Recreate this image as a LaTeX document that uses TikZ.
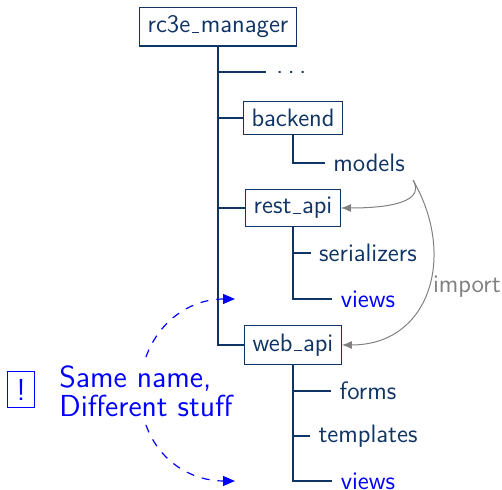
\documentclass[tikz,border=0pt]{standalone}
\usepackage{fontspec}
\usetikzlibrary{arrows.meta}
\definecolor{navy}{RGB}{16,52,100}
\definecolor{impgray}{RGB}{128,128,128}
% short low underscore, as in the classic text fonts
\newcommand{\uscore}{\kern.06em\vbox{\hrule width.3em height .6pt}\kern.06em}
\begin{document}
\begin{tikzpicture}[x=0.5pt,y=0.5pt,
  every node/.style={font=\sffamily\fontsize{12.6}{15}\selectfont, text=navy, inner sep=4pt},
  dirbox/.style={draw=navy, line width=0.6pt},
  hi/.style={text=blue},
  branch/.style={draw=navy, line width=0.65pt},
  imp/.style={draw=impgray, line width=0.5pt, -{Latex[length=5pt,width=4pt]}},
  hint/.style={draw=blue, line width=0.6pt, dash pattern=on 4pt off 4pt,
    -{Triangle[length=6pt,width=5pt]}},
  notefont/.style={font=\sffamily\fontsize{15.2}{14.5}\selectfont}]
\useasboundingbox (0,0) rectangle (502,-490);

% directory tree
\node[dirbox] (root) at (218,-27) {rc3e\uscore manager};
\node[anchor=west, inner xsep=5pt, text height=2pt, text depth=0pt] (dots) at (266,-72)
  {.\kern2.3pt.\kern2.3pt.};
\node[dirbox] (backend) at (293,-118) {backend};
\node (models) at (369,-163) {models};
\node[dirbox] (rest) at (293,-208) {rest\uscore api};
\node (serial) at (368,-253) {serializers};
\node[hi] (restviews) at (368,-299) {views};
\node[dirbox] (web) at (293,-345) {web\uscore api};
\node (forms) at (368,-391) {forms};
\node (templ) at (368,-436) {templates};
\node[hi] (webviews) at (368,-481) {views};

\draw[branch] (root.south) |- (dots.west);
\draw[branch] (root.south) |- (backend.west);
\draw[branch] (root.south) |- (rest.west);
\draw[branch] (root.south) |- (web.west);
\draw[branch] (backend.south) |- (models.west);
\draw[branch] (rest.south) |- (serial.west);
\draw[branch] (rest.south) |- (restviews.west);
\draw[branch] (web.south) |- (forms.west);
\draw[branch] (web.south) |- (templ.west);
\draw[branch] (web.south) |- (webviews.west);

% imports
\draw[imp] (models.south east) to[out=-60,in=0] (rest.east);
\draw[imp] (models.south east) to[out=-60,in=0, looseness=1.25]
  node[pos=0.475, right, text=impgray, inner xsep=2pt] {import} (web.east);

% note
\node[draw=blue, line width=0.5pt, text=blue, notefont, minimum width=13.5pt, minimum height=18pt, inner sep=2pt]
  (bang) at (21,-390) {!};
\node[hi, notefont, align=left, anchor=west] (note) at (51,-391) {Same name,\\Different stuff};
\coordinate (tA) at (235,-299);
\coordinate (tB) at (235,-481);
\draw[hint] (note.north) to[out=70,in=180] (tA);
\draw[hint] (note.south) to[out=-70,in=180] (tB);
\end{tikzpicture}
\end{document}
